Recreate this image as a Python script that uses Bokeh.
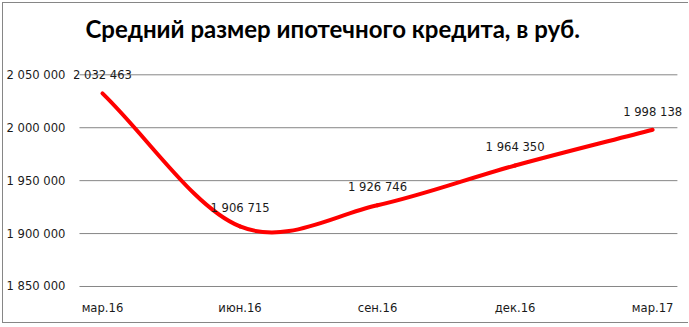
from bokeh.plotting import figure
from bokeh.models import ColumnDataSource, LabelSet, Label, FixedTicker, Range1d
from bokeh.core.properties import value
from bokeh.embed import file_html
from bokeh.resources import INLINE

categories = ["мар.16", "июн.16", "сен.16", "дек.16", "мар.17"]
values = [2032463, 1906715, 1926746, 1964350, 1998138]
y_ticks = [1850000, 1900000, 1950000, 2000000, 2050000]
title_text = "Средний размер ипотечного кредита, в руб."


def fmt(v):
    return f"{v:,}".replace(",", " ")


xs = list(range(len(categories)))
n = len(values)

# tangents for a smoothed (Catmull-Rom style) line like Excel's smoothed series
m = []
for i in range(n):
    if i == 0:
        m.append(values[1] - values[0])
    elif i == n - 1:
        m.append(values[-1] - values[-2])
    else:
        m.append((values[i + 1] - values[i - 1]) / 2)

seg = dict(
    x0=[xs[i] for i in range(n - 1)],
    y0=[values[i] for i in range(n - 1)],
    x1=[xs[i + 1] for i in range(n - 1)],
    y1=[values[i + 1] for i in range(n - 1)],
    cx0=[xs[i] + 1 / 3 for i in range(n - 1)],
    cy0=[values[i] + m[i] / 3 for i in range(n - 1)],
    cx1=[xs[i + 1] - 1 / 3 for i in range(n - 1)],
    cy1=[values[i + 1] - m[i + 1] / 3 for i in range(n - 1)],
)

GRID_X0, GRID_X1 = -0.167, 4.18

p = figure(
    width=686, height=321,
    output_backend="svg", toolbar_location=None,
    x_range=Range1d(-0.2105, 4.246), y_range=Range1d(1849055, 2117360),
    min_border_left=68, min_border_right=3, min_border_top=0, min_border_bottom=37,
)
p.styles = {
    "margin-left": "2px",
    "margin-top": "2px",
    "border-left": "1px solid #868686",
    "border-top": "1px solid #868686",
    "border-bottom": "1px solid #868686",
}
p.outline_line_color = None
p.background_fill_color = "white"
p.border_fill_color = "white"

p.xgrid.grid_line_color = None
p.ygrid.grid_line_color = None

# horizontal grid lines (and category axis line) limited to the plotting area
p.segment(x0=[GRID_X0] * len(y_ticks), x1=[GRID_X1] * len(y_ticks), y0=y_ticks, y1=y_ticks,
          line_color="#868686", line_width=1)

p.yaxis.ticker = FixedTicker(ticks=y_ticks)
p.yaxis.major_label_overrides = {t: fmt(t) for t in y_ticks}
p.xaxis.ticker = FixedTicker(ticks=xs)
p.xaxis.major_label_overrides = {i: c for i, c in zip(xs, categories)}

for ax in (p.xaxis, p.yaxis):
    ax.major_tick_line_color = None
    ax.minor_tick_line_color = None
    ax.major_tick_out = 0
    ax.major_tick_in = 0
    ax.minor_tick_out = 0
    ax.minor_tick_in = 0
    ax.axis_line_color = None
    ax.major_label_text_font = "DejaVu Sans"
    ax.major_label_text_font_size = "11.6px"
    ax.major_label_text_color = "#1a1a1a"
p.yaxis.major_label_standoff = 8
p.xaxis.major_label_standoff = 13

p.bezier(x0="x0", y0="y0", x1="x1", y1="y1", cx0="cx0", cy0="cy0", cx1="cx1", cy1="cy1",
         source=ColumnDataSource(seg), line_color="#ff0000", line_width=4, line_cap="round")

src = ColumnDataSource(dict(x=xs, y=values, text=[fmt(v) for v in values]))
labels = LabelSet(x="x", y="y", text="text", source=src, y_offset=18,
                  text_align="center", text_baseline="middle",
                  text_font=value("DejaVu Sans"), text_font_size="11.6px", text_color="#1a1a1a")
p.add_layout(labels)

title = Label(x=1.674, y=2093742, text=title_text, text_align="center", text_baseline="alphabetic",
              text_font="Lato", text_font_size="24px", text_font_style="bold", text_color="#000000")
p.add_layout(title)

open("out.html", "w").write(file_html(p, INLINE))
